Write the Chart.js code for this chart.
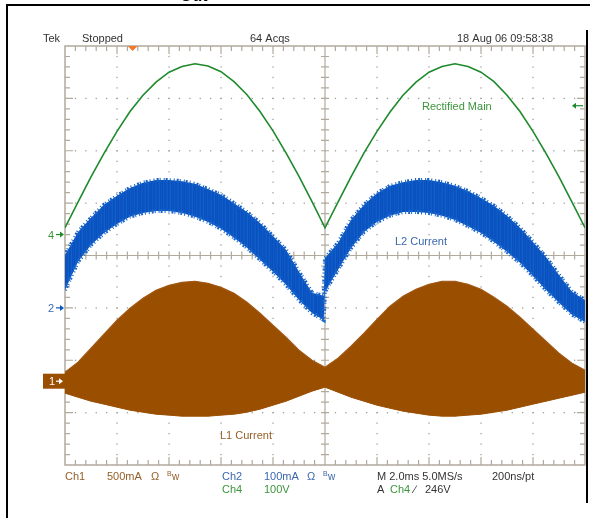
<!DOCTYPE html>
<html>
<head>
<meta charset="utf-8">
<script src="https://cdn.jsdelivr.net/npm/chart.js@4.4.1/dist/chart.umd.min.js"></script>
<style>
  html, body { margin: 0; padding: 0; background: #fff; }
  #wrap { width: 590px; height: 518px; position: relative; }
</style>
</head>
<body>
<div id="wrap"><canvas id="scope" width="590" height="518"></canvas></div>
<script>
// time axis in ms, 10 div x 2.0 ms/div, centre = 0
const timeMs = [-10, -9.5, -9, -8.5, -8, -7.5, -7, -6.5, -6, -5.5, -5, -4.5, -4, -3.5, -3, -2.5, -2, -1.5, -1, -0.5,
  0, 0.5, 1, 1.5, 2, 2.5, 3, 3.5, 4, 4.5, 5, 5.5, 6, 6.5, 7, 7.5, 8, 8.5, 9, 9.5, 10]

// Ch4, rectified main (V)
const mainsV = [13, 62, 110, 155, 197, 235, 266, 291, 310, 321, 326, 322, 311, 292, 267, 235, 198, 156, 111, 63,
  13, 62, 110, 156, 197, 234, 266, 291, 310, 321, 326, 321, 310, 292, 266, 235, 197, 155, 110, 62, 13]

// Ch1, L1 current envelope (mA)
const l1Upper = [86, 181, 315, 448, 582, 696, 792, 868, 916, 944, 954, 935, 897, 840, 754, 649, 534, 420, 296, 200,
  134, 219, 334, 458, 591, 716, 811, 878, 925, 954, 954, 925, 878, 801, 716, 611, 496, 382, 267, 172, 105]
const l1Lower = [-114, -153, -191, -219, -248, -277, -296, -315, -324, -334, -334, -334, -324, -315, -296, -267, -229, -191, -143, -95,
  -57, -105, -153, -191, -229, -258, -286, -305, -324, -334, -334, -324, -315, -296, -277, -248, -219, -191, -162, -134, -105]

// Ch2, L2 current envelope (mA) - jumps at the zero crossing
const l2Time = [-10, -9.5, -9, -8.5, -8, -7.5, -7, -6.5, -6, -5.5, -5, -4.5, -4, -3.5, -3, -2.5, -2, -1.5, -1, -0.5, -0.05,
  0, 0.5, 1, 1.5, 2, 2.5, 3, 3.5, 4, 4.5, 5, 5.5, 6, 6.5, 7, 7.5, 8, 8.5, 9, 9.5, 10]
const l2Upper = [101, 145, 172, 197, 214, 229, 239, 244, 244, 242, 237, 227, 216, 200, 183, 162, 137, 111, 69, 29, 23,
  95, 124, 168, 197, 219, 233, 240, 244, 244, 240, 233, 223, 210, 195, 176, 153, 126, 97, 63, 31, 15]
const l2Lower = [34, 88, 120, 143, 160, 174, 181, 185, 185, 181, 174, 164, 151, 134, 115, 92, 69, 44, 15, -10, -23,
  31, 73, 114, 145, 164, 176, 183, 183, 181, 176, 168, 156, 143, 126, 107, 86, 61, 34, 10, -13, -27]

// channel setup: ground offset (div) and scale (units/div)
const ch1 = { offset: -2.4, perDiv: 500, color: "#9a4e00", text: "#94602a" }
const ch2 = { offset: -1.0, perDiv: 100, color: "#0a54c2", text: "#3a68ad" }
const ch4 = { offset: 0.4, perDiv: 100, color: "#1f8a2c", text: "#3b963b" }

const trigPosMs = -7.4
const trigLevelV = 246

const toDiv = (ch, vals, times) => vals.map((v, i) => ({ x: times[i], y: ch.offset + v / ch.perDiv }))

// faint striped fill so the ripple band is not flat
const stripes = (cols) => {
  const c = document.createElement("canvas")
  c.width = cols.length; c.height = 1
  const g = c.getContext("2d")
  cols.forEach((col, i) => { g.fillStyle = col; g.fillRect(i, 0, 1, 1) })
  return g.createPattern(c, "repeat")
}
const bluePattern = stripes(["#0b53c2", "#0c56c4", "#0f5cc7", "#0a50bf", "#0b54c2", "#1060c9", "#0a51c0",
  "#0c55c3", "#0a4fbe", "#0e5ac6", "#0b53c1"])

const graticule = {
  id: "graticule",
  beforeDatasetsDraw(chart) {
    const { ctx, chartArea: a, scales: { x, y } } = chart
    ctx.save()
    ctx.fillStyle = "#a0a0a0"
    for (let d = -4; d <= 4; d++) {
      if (d === 0) continue
      const px = x.getPixelForValue(d * 2)
      for (let k = -19; k <= 19; k++) ctx.fillRect(px - 0.6, y.getPixelForValue(k / 5) - 0.6, 1.3, 1.3)
    }
    for (let d = -3; d <= 3; d++) {
      if (d === 0) continue
      const py = y.getPixelForValue(d)
      for (let k = -24; k <= 24; k++) ctx.fillRect(x.getPixelForValue(k * 0.4) - 0.6, py - 0.6, 1.3, 1.3)
    }
    ctx.strokeStyle = "#b2a99d"
    ctx.lineWidth = 1.2
    const cx = x.getPixelForValue(0), cy = y.getPixelForValue(0)
    ctx.beginPath()
    ctx.moveTo(cx, a.top); ctx.lineTo(cx, a.bottom)
    ctx.moveTo(a.left, cy); ctx.lineTo(a.right, cy)
    for (let k = -19; k <= 19; k++) {
      const py = y.getPixelForValue(k / 5)
      ctx.moveTo(cx - 4, py); ctx.lineTo(cx + 4, py)
      const len = k % 5 === 0 ? 8 : 5
      ctx.moveTo(a.left, py); ctx.lineTo(a.left + len, py)
      ctx.moveTo(a.right, py); ctx.lineTo(a.right - len, py)
    }
    for (let k = -24; k <= 24; k++) {
      const px = x.getPixelForValue(k * 0.4)
      ctx.moveTo(px, cy - 4); ctx.lineTo(px, cy + 4)
      const len = k % 5 === 0 ? 8 : 5
      ctx.moveTo(px, a.top); ctx.lineTo(px, a.top + len)
      ctx.moveTo(px, a.bottom); ctx.lineTo(px, a.bottom - len)
    }
    ctx.stroke()
    ctx.lineWidth = 1.5
    ctx.strokeRect(a.left, a.top, a.right - a.left, a.bottom - a.top)
    ctx.restore()
  }
}

const arrowRight = (ctx, x0, x1, yy, color) => {
  ctx.strokeStyle = color; ctx.fillStyle = color; ctx.lineWidth = 1.2
  ctx.beginPath(); ctx.moveTo(x0, yy); ctx.lineTo(x1 - 2, yy); ctx.stroke()
  ctx.beginPath(); ctx.moveTo(x1, yy); ctx.lineTo(x1 - 4, yy - 3); ctx.lineTo(x1 - 4, yy + 3); ctx.closePath(); ctx.fill()
}

const labels = {
  id: "labels",
  afterDraw(chart) {
    const { ctx, chartArea: a, scales: { x, y } } = chart
    const font = (s, w) => `${w || ""} ${s}px "Liberation Sans", Arial, sans-serif`
    const txt = (s, px, py, color, size) => { ctx.fillStyle = color; ctx.font = font(size || 11); ctx.fillText(s, px, py) }
    ctx.save()
    ctx.textBaseline = "alphabetic"

    // page frame
    ctx.fillStyle = "#000"
    ctx.fillRect(6, 4, 584, 2)
    ctx.fillRect(6, 4, 2, 514)
    ctx.fillRect(586, 30, 2, 473)
    ctx.font = font(16, "bold")
    ctx.fillText("Out", 180, 1)

    // header
    txt("Tek", 43, 42, "#333")
    txt("Stopped", 82, 42, "#333")
    txt("64 Acqs", 250, 42, "#333")
    txt("18 Aug 06 09:58:38", 457, 42, "#333")

    // trigger position marker
    const tp = x.getPixelForValue(trigPosMs)
    ctx.fillStyle = "#f07a2a"
    ctx.beginPath(); ctx.moveTo(tp - 5, a.top); ctx.lineTo(tp + 5, a.top); ctx.lineTo(tp, a.top + 5); ctx.closePath(); ctx.fill()

    // trigger level marker (right)
    const tl = y.getPixelForValue(ch4.offset + trigLevelV / ch4.perDiv)
    ctx.strokeStyle = ch4.color; ctx.fillStyle = ch4.color; ctx.lineWidth = 1.2
    ctx.beginPath(); ctx.moveTo(a.right - 12, tl); ctx.lineTo(a.right - 2, tl); ctx.stroke()
    ctx.beginPath(); ctx.moveTo(a.right - 13, tl); ctx.lineTo(a.right - 9, tl - 3); ctx.lineTo(a.right - 9, tl + 3); ctx.closePath(); ctx.fill()

    // ground markers
    const g4 = y.getPixelForValue(ch4.offset)
    txt("4", 48, g4 + 4, ch4.text)
    arrowRight(ctx, 56, 64, g4, ch4.color)
    const g2 = y.getPixelForValue(ch2.offset)
    txt("2", 48, g2 + 4, ch2.text)
    arrowRight(ctx, 56, 64, g2, ch2.color)
    const g1 = y.getPixelForValue(ch1.offset)
    ctx.fillStyle = ch1.color
    ctx.fillRect(43, g1 - 7.5, 22, 15)
    txt("1", 49, g1 + 4, "#fff")
    arrowRight(ctx, 56, 63, g1, "#fff")

    // trace labels
    txt("Rectified Main", 422, 110, ch4.text)
    txt("L2 Current", 395, 245, ch2.text)
    txt("L1 Current", 220, 439, ch1.text)

    // bottom readout
    const bw = (px, py, color) => {
      ctx.fillStyle = color
      ctx.font = font(7); ctx.fillText("B", px, py - 4)
      ctx.font = font(10); ctx.fillText("w", px + 5, py)
    }
    txt("Ch1", 65, 480, ch1.text)
    txt("500mA", 107, 480, ch1.text)
    txt("\u03a9", 151, 480, ch1.text)
    bw(167, 480, ch1.text)
    txt("Ch2", 222, 480, ch2.text)
    txt("100mA", 264, 480, ch2.text)
    txt("\u03a9", 307, 480, ch2.text)
    bw(323, 480, ch2.text)
    txt("Ch4", 222, 493, ch4.text)
    txt("100V", 264, 493, ch4.text)
    txt("M 2.0ms 5.0MS/s", 377, 480, "#333")
    txt("200ns/pt", 492, 480, "#333")
    txt("A", 377, 493, "#333")
    txt("Ch4", 390, 493, ch4.text)
    txt("\u2215", 414, 493, "#333")
    txt("246V", 425, 493, "#333")
    ctx.restore()
  }
}

const line = (data, color, extra) => Object.assign({
  data, borderColor: color, borderWidth: 1, pointRadius: 0, showLine: true, fill: false, tension: 0
}, extra)

// ragged edge for the ripple band
const fuzz = { borderWidth: 4, borderDash: [1, 2, 2, 1, 1, 3, 1, 1, 2, 2, 1, 3], borderCapStyle: "butt" }

new Chart(document.getElementById("scope"), {
  type: "scatter",
  data: {
    datasets: [
      line(toDiv(ch4, mainsV, timeMs), ch4.color, { borderWidth: 1.6 }),
      line(toDiv(ch2, l2Lower, l2Time), "#1c6ad0", fuzz),
      line(toDiv(ch2, l2Upper, l2Time), "#1461c8", Object.assign({ fill: "-1", backgroundColor: bluePattern }, fuzz)),
      line(toDiv(ch1, l1Lower, timeMs), ch1.color),
      line(toDiv(ch1, l1Upper, timeMs), "#a05812", { fill: "-1", backgroundColor: ch1.color, borderWidth: 1.2 })
    ]
  },
  options: {
    responsive: false,
    animation: false,
    events: [],
    layout: { padding: { left: 65, right: 5, top: 46, bottom: 53 } },
    scales: {
      x: { type: "linear", min: -10, max: 10, display: false },
      y: { type: "linear", min: -4, max: 4, display: false }
    },
    plugins: { legend: { display: false }, tooltip: { enabled: false } }
  },
  plugins: [graticule, labels]
})
</script>
</body>
</html>
